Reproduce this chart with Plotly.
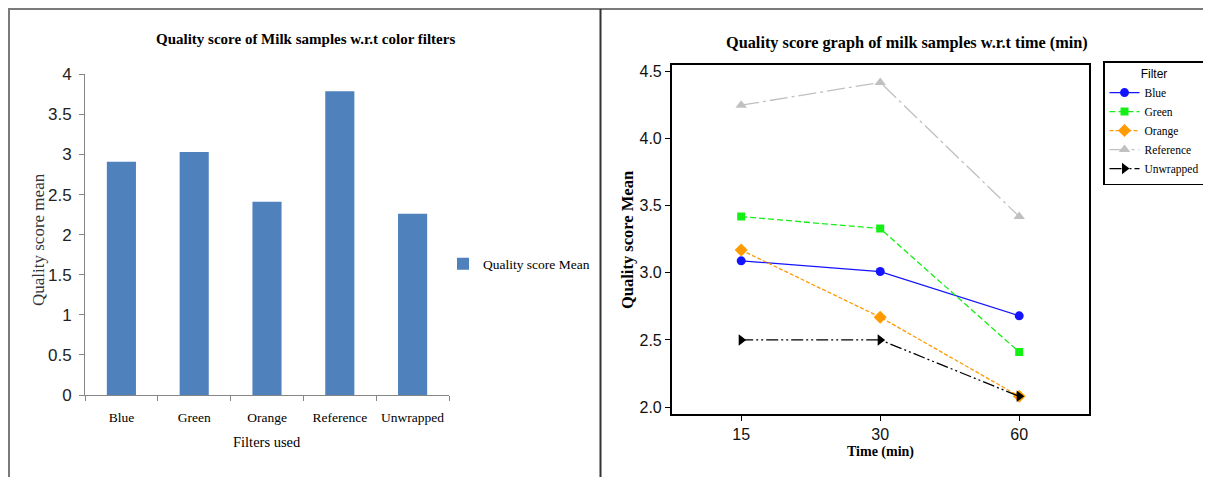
import plotly.graph_objects as go

# the page body adds an 8px margin, so the figure is sized to the visible area
OFF = 8
W, H = 1211 - OFF, 477 - OFF

# ---- data ----
filters = ["Blue", "Green", "Orange", "Reference", "Unwrapped"]
bar_means = [2.91, 3.03, 2.41, 3.79, 2.26]

times = ["15", "30", "60"]
blue_vals = [3.09, 3.01, 2.68]
green_vals = [3.42, 3.33, 2.41]
orange_vals = [3.17, 2.67, 2.08]
reference_vals = [4.25, 4.42, 3.42]
unwrapped_vals = [2.50, 2.50, 2.08]

line_series = [
    ("Blue", blue_vals, "#1414ff", "solid", "circle", 9),
    ("Green", green_vals, "#14f014", "6px,3px", "square", 8),
    ("Orange", orange_vals, "#ff9a00", "4px,2px", "diamond", 10),
    ("Reference", reference_vals, "#c0c0c0", "18px,4px,3px,4px", "triangle-up", 10),
    ("Unwrapped", unwrapped_vals, "#000000", "12px,3px,2px,3px,2px,3px", "triangle-right", 10),
]

SERIF = "Liberation Serif, Times New Roman, serif"
SANS = "Liberation Sans Narrow, Arial Narrow, Liberation Sans, sans-serif"


def px(x):
    return (x - OFF) / W


def py(y):
    return 1 - (y - OFF) / H


fig = go.Figure()

fig.add_trace(go.Bar(
    x=filters, y=bar_means, name="Quality score Mean",
    marker=dict(color="#4f81bd", line=dict(width=0)),
    width=0.4, xaxis="x", yaxis="y", legend="legend2",
))

for name, vals, color, dash, sym, size in line_series:
    fig.add_trace(go.Scatter(
        x=times, y=vals, name=name, mode="lines+markers",
        line=dict(color=color, width=1.3, dash=dash),
        marker=dict(symbol=sym, size=size, color=color),
        xaxis="x2", yaxis="y2", legend="legend",
    ))

fig.update_layout(
    width=W, height=H, autosize=False,
    margin=dict(l=0, r=0, t=0, b=0, pad=0, autoexpand=False),
    paper_bgcolor="white", plot_bgcolor="white",
    xaxis=dict(
        domain=[px(85), px(449)], type="category",
        showline=True, linecolor="#868686", linewidth=1,
        ticks="outside", tickson="boundaries", ticklen=5, tickcolor="#868686",
        tickfont=dict(family=SERIF, size=13.5, color="#000"),
        tickangle=0, ticklabelstandoff=10,
        showgrid=False, zeroline=False, fixedrange=True,
        anchor="y",
    ),
    yaxis=dict(
        domain=[py(395), py(74.3)], range=[0, 4], dtick=0.5,
        showline=True, linecolor="#868686", linewidth=1,
        ticks="outside", ticklen=5, tickcolor="#868686",
        tickfont=dict(family=SANS, size=17, color="#222"),
        ticklabelstandoff=4,
        showgrid=False, zeroline=False, anchor="x",
    ),
    xaxis2=dict(
        domain=[px(671.7), px(1088.7)], type="category", range=[-0.5, 2.5],
        showline=True, mirror=True, linecolor="#000", linewidth=1.5,
        ticks="outside", ticklen=5, tickcolor="#000",
        tickfont=dict(family=SANS, size=16, color="#111"),
        tickangle=0,
        showgrid=False, zeroline=False, anchor="y2",
    ),
    yaxis2=dict(
        domain=[py(414), py(64.7)], range=[1.948, 4.552],
        tickvals=[2.0, 2.5, 3.0, 3.5, 4.0, 4.5], tickformat=".1f",
        showline=True, mirror=True, linecolor="#000", linewidth=1.5,
        ticks="outside", ticklen=5, tickcolor="#000",
        tickfont=dict(family=SANS, size=16, color="#111"),
        showgrid=False, zeroline=False, anchor="x2",
    ),
    legend=dict(
        x=px(1103), y=py(61), xanchor="left", yanchor="top",
        bordercolor="#000", borderwidth=1.5, bgcolor="white",
        title=dict(text="Filter", side="top center",
                   font=dict(family=SANS, size=12, color="#000")),
        font=dict(family=SERIF, size=11.5, color="#000"),
        itemwidth=30, tracegroupgap=0,
    ),
    legend2=dict(
        x=px(443), y=py(264), xanchor="left", yanchor="middle",
        borderwidth=0, bgcolor="rgba(0,0,0,0)",
        font=dict(family=SERIF, size=13.5, color="#000"),
        itemwidth=30,
    ),
    showlegend=True,
)

# panel borders
shapes = [
    dict(type="line", xref="paper", yref="paper", x0=px(8), x1=1, y0=py(9), y1=py(9),
         line=dict(color="#7a7a7a", width=2)),
    dict(type="line", xref="paper", yref="paper", x0=px(9), x1=px(9), y0=py(9), y1=0,
         line=dict(color="#7a7a7a", width=2)),
    dict(type="line", xref="paper", yref="paper", x0=px(600.5), x1=px(600.5), y0=py(9), y1=0,
         line=dict(color="#333333", width=2)),
]
fig.update_layout(shapes=shapes)

annotations = [
    dict(text="<b>Quality score of Milk samples w.r.t color filters</b>", x=px(305), y=py(39),
         font=dict(family=SERIF, size=15, color="#000")),
    dict(text="Quality score mean", x=px(38), y=py(240), textangle=-90,
         font=dict(family=SERIF, size=17, color="#333")),
    dict(text="Filters used", x=px(267), y=py(442),
         font=dict(family=SERIF, size=14.5, color="#000")),
    dict(text="<b>Quality score graph of milk samples w.r.t time (min)</b>", x=px(907), y=py(42),
         font=dict(family=SERIF, size=16.3, color="#000")),
    dict(text="<b>Quality score Mean</b>", x=px(627), y=py(240), textangle=-90,
         font=dict(family=SERIF, size=16.5, color="#000")),
    dict(text="<b>Time (min)</b>", x=px(880), y=py(452),
         font=dict(family=SERIF, size=14, color="#000")),
]
for a in annotations:
    a.update(xref="paper", yref="paper", showarrow=False, xanchor="center", yanchor="middle")
fig.update_layout(annotations=annotations)

fig.write_html("out.html")
